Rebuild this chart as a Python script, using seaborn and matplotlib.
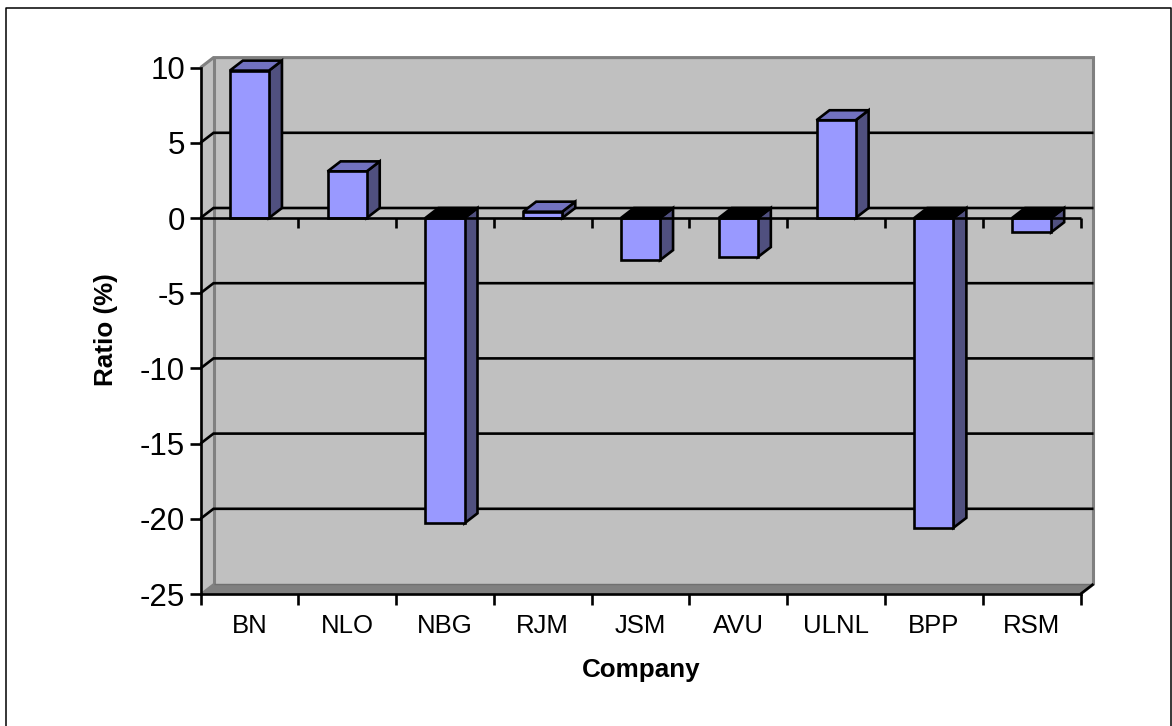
import matplotlib
matplotlib.use("Agg")
import matplotlib.pyplot as plt
from matplotlib.patches import Polygon, Rectangle
import pandas as pd
import seaborn as sns

companies = ["BN", "NLO", "NBG", "RJM", "JSM", "AVU", "ULNL", "BPP", "RSM"]
ratios = [9.8, 3.1, -20.3, 0.42, -2.8, -2.6, 6.5, -20.6, -0.95]
y_ticks = [10, 5, 0, -5, -10, -15, -20, -25]

FRONT = "#9999FF"
SIDE = "#50507F"
TOP = "#7272C0"
WALL = "#C0C0C0"
EDGE = "#808080"
LW = 1.9

sns.set_theme(style="white")
plt.rcParams["font.family"] = ["Liberation Sans", "DejaVu Sans"]

W, H = 1172, 726
LEFT, BOTTOM, AX_W, AX_H = 200.5, 594, 880, 526.4
fig = plt.figure(figsize=(W / 100, H / 100), dpi=100, facecolor="white")
ax = fig.add_axes([LEFT / W, 1 - BOTTOM / H, AX_W / W, AX_H / H])
ax.set_facecolor("none")

# Outer chart frame, open along the bottom edge of the canvas
fig.add_artist(plt.Line2D([6 / W, 6 / W, 1171 / W, 1171 / W],
                          [0, 1 - 7.5 / H, 1 - 7.5 / H, 0],
                          color="black", lw=1.1))

frame = pd.DataFrame({"company": companies, "ratio": ratios})
sns.barplot(data=frame, x="company", y="ratio", width=0.4, color=FRONT,
            saturation=1, edgecolor="black", linewidth=LW, ax=ax, zorder=5)

ax.set_xlim(-0.5, len(companies) - 0.5)
ax.set_ylim(-25, 10)

# Depth of the pseudo-3D box, in data units
dx = 13 / (AX_W / len(companies))
dy = 10 / (AX_H / 35)
x0, x1 = ax.get_xlim()
y0, y1 = ax.get_ylim()


def poly(points, face, edge="none", lw=0, z=1):
    ax.add_patch(Polygon(points, closed=True, facecolor=face, edgecolor=edge,
                         linewidth=lw, joinstyle="miter", zorder=z, clip_on=False))


def line(xs, ys, color="black", lw=LW, z=2):
    ax.plot(xs, ys, color=color, lw=lw, zorder=z, clip_on=False,
            solid_capstyle="butt", solid_joinstyle="miter")


# Back wall, side wall and floor
poly([(x0 + dx, y0 + dy), (x1 + dx, y0 + dy), (x1 + dx, y1 + dy), (x0 + dx, y1 + dy)], WALL, z=0.5)
poly([(x0, y0), (x0 + dx, y0 + dy), (x0 + dx, y1 + dy), (x0, y1)], WALL, z=0.5)
poly([(x0, y0), (x1, y0), (x1 + dx, y0 + dy), (x0 + dx, y0 + dy)], EDGE, z=0.6)

# Gridlines on the back wall with their returns along the side wall
for v in y_ticks[1:-1]:
    line([x0, x0 + dx, x1 + dx], [v, v + dy, v + dy])

line([x0 + dx, x0 + dx], [y0 + dy, y1 + dy], EDGE, 2.2, 1.5)
line([x0, x0 + dx, x1 + dx, x1 + dx, x1], [y1, y1 + dy, y1 + dy, y0 + dy, y0], EDGE, 2.2, 1.5)
line([x0 + dx, x1 + dx], [y0 + dy, y0 + dy], "#707070", 1.0, 1.6)
line([x0, x0 + dx], [y0, y0 + dy], EDGE, 1.2, 1.6)
line([x1, x1 + dx], [y0, y0 + dy], "black", LW, 2)

# Top and side faces of each column
for patch in list(ax.patches):
    if not isinstance(patch, Rectangle):
        continue
    left = patch.get_x()
    right = left + patch.get_width()
    upper = max(patch.get_y(), patch.get_y() + patch.get_height())
    lower = min(patch.get_y(), patch.get_y() + patch.get_height())
    poly([(right, lower), (right + dx, lower + dy), (right + dx, upper + dy), (right, upper)],
         SIDE, "black", LW, 3)
    top_colour = TOP if upper > 0 else "black"
    poly([(left, upper), (right, upper), (right + dx, upper + dy), (left + dx, upper + dy)],
         top_colour, "black", LW, 3)

# Zero line and its tick marks in front of the wall
tick_down = 0.66
line([x0, x1], [0, 0], z=6)
for i in range(1, len(companies) + 1):
    pos = x0 + i
    line([pos, pos], [0, -tick_down], z=2)

# Axis spines, ticks and labels
for name, spine in ax.spines.items():
    spine.set_visible(name in ("left", "bottom"))
    spine.set_color("black")
    spine.set_linewidth(LW)
    spine.set_zorder(7)

ax.set_yticks(y_ticks)
ax.set_yticklabels([str(v) for v in y_ticks])
ax.tick_params(axis="y", left=True, length=8, width=LW, color="black", pad=3,
               labelsize=22.5, labelcolor="black")

ax.set_xticks([i + 0.5 for i in range(-1, len(companies))])
ax.set_xticklabels([])
ax.set_xticks(range(len(companies)), labels=companies, minor=True)
ax.tick_params(axis="x", which="major", bottom=True, length=8, width=LW, color="black")
ax.tick_params(axis="x", which="minor", bottom=False, length=0, pad=14.5,
               labelsize=18.5, labelcolor="black")

ax.set_xlabel("Company", fontsize=18.7, fontweight="bold", color="black")
ax.set_ylabel("Ratio (%)", fontsize=18.7, fontweight="bold", color="black")
ax.xaxis.set_label_coords((641 - LEFT) / AX_W, (BOTTOM - 670) / AX_H)
ax.yaxis.set_label_coords((106 - LEFT) / AX_W, (BOTTOM - 330) / AX_H)
ax.xaxis.label.set_va("center")
ax.yaxis.label.set_va("center")

fig.savefig("out.png", dpi=100, facecolor="white")
